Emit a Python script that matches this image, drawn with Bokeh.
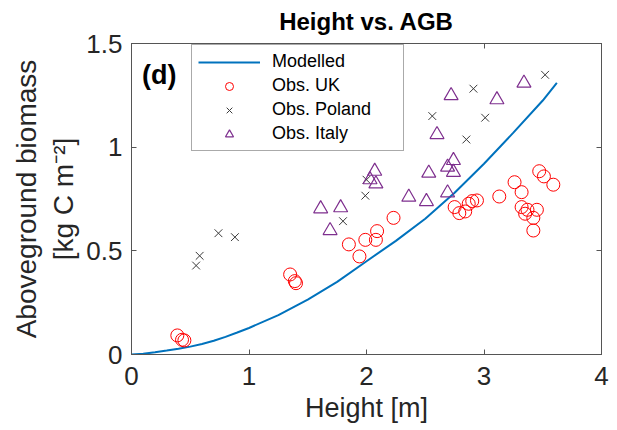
from bokeh.plotting import figure
from bokeh.models import FixedTicker, Label, LinearAxis, Range1d, Legend, LegendItem
from bokeh.embed import file_html
from bokeh.resources import INLINE

# ---- data ----
model_x = [0, 0.1, 0.2, 0.3, 0.4, 0.5, 0.6, 0.7, 0.8, 0.9, 1.0, 1.25, 1.5, 1.75, 2.0,
           2.25, 2.5, 2.75, 3.0, 3.25, 3.5, 3.62]
model_y = [0, 0.004, 0.011, 0.019, 0.028, 0.038, 0.051, 0.066, 0.085, 0.106, 0.128, 0.19, 0.265,
           0.35, 0.45, 0.548, 0.655, 0.78, 0.92, 1.07, 1.225, 1.31]

uk_x = [0.39, 0.43, 0.45, 1.35, 1.39, 1.40, 1.85, 1.94, 1.99, 2.08, 2.09, 2.23, 2.75, 2.79, 2.84,
        2.87, 2.90, 2.94, 3.13, 3.26, 3.32, 3.32, 3.35, 3.37, 3.42, 3.42, 3.45, 3.47, 3.51, 3.59]
uk_y = [0.092, 0.071, 0.068, 0.386, 0.354, 0.344, 0.531, 0.473, 0.553, 0.553, 0.595, 0.659, 0.711, 0.682, 0.690,
        0.727, 0.740, 0.743, 0.762, 0.831, 0.783, 0.711, 0.679, 0.698, 0.659, 0.598, 0.698, 0.884, 0.859, 0.819]

pl_x = [0.55, 0.58, 0.74, 0.88, 1.80, 1.99, 2.00, 2.56, 2.85, 2.91, 3.01, 3.52]
pl_y = [0.429, 0.476, 0.585, 0.566, 0.643, 0.766, 0.843, 1.150, 1.037, 1.282, 1.142, 1.349]

it_x = [1.61, 1.69, 1.78, 2.03, 2.07, 2.08, 2.36, 2.51, 2.53, 2.60, 2.69, 2.69, 2.72, 2.74, 2.74, 3.11, 3.34]
it_y = [0.703, 0.598, 0.708, 0.843, 0.884, 0.823, 0.759, 0.738, 0.875, 1.061, 0.780, 0.904, 1.249, 0.936, 0.879, 1.229, 1.309]

x_ticks = [0, 1, 2, 3, 4]
x_tick_labels = ["0", "1", "2", "3", "4"]
y_ticks = [0, 0.5, 1, 1.5]
y_tick_labels = ["0", "0.5", "1", "1.5"]

title_text = "Height vs. AGB"
x_label = "Height [m]"
y_label = "Aboveground biomass\n[kg C m\u207b\u00b2]"
panel_tag = "(d)"

FONT = "'Liberation Sans', Arial, sans-serif"
AX = "#555555"
TXT = "#262626"

p = figure(width=617, height=430, output_backend="svg", toolbar_location=None,
           x_range=Range1d(0, 4), y_range=Range1d(0, 1.5),
           min_border_left=131, min_border_right=16, min_border_top=43, min_border_bottom=76)

p.grid.visible = False
p.outline_line_color = AX
p.outline_line_width = 1
p.background_fill_color = "white"
p.border_fill_color = "white"

def style_axis(ax, show_labels=True):
    ax.axis_line_color = AX
    ax.major_tick_line_color = AX
    ax.major_tick_in = 5
    ax.major_tick_out = 0
    ax.minor_tick_line_color = None
    ax.major_label_text_font = FONT
    ax.major_label_text_font_size = "26px"
    ax.major_label_text_color = TXT
    ax.axis_label_text_font = FONT
    ax.axis_label_text_font_size = "27px"
    ax.axis_label_text_font_style = "normal"
    ax.axis_label_text_color = TXT
    if not show_labels:
        ax.major_label_text_font_size = "0px"
        ax.major_label_text_color = None

xa = p.xaxis[0]
ya = p.yaxis[0]
xa.ticker = FixedTicker(ticks=x_ticks)
ya.ticker = FixedTicker(ticks=y_ticks)
xa.major_label_overrides = {t: l for t, l in zip(x_ticks, x_tick_labels)}
ya.major_label_overrides = {t: l for t, l in zip(y_ticks, y_tick_labels)}
style_axis(xa)
style_axis(ya)
ya.axis_label_text_font_size = "28px"
xa.axis_label = x_label
ya.axis_label = y_label
xa.major_label_standoff = 12
ya.major_label_standoff = 9
xa.axis_label_standoff = 5
ya.axis_label_standoff = 4

# top axis carries the chart title as its label (centred over the frame)
top = LinearAxis(ticker=FixedTicker(ticks=x_ticks))
right = LinearAxis(ticker=FixedTicker(ticks=y_ticks))
style_axis(top, False)
style_axis(right, False)
top.major_label_standoff = 0
top.axis_label = title_text
top.axis_label_text_font_style = "bold"
top.axis_label_text_font_size = "24px"
top.axis_label_text_color = "#000000"
top.axis_label_standoff = 9
p.add_layout(top, "above")
p.add_layout(right, "right")

r_model = p.line(model_x, model_y, line_color="#0072BD", line_width=2)
r_uk = p.scatter(uk_x, uk_y, marker="circle", size=13, fill_color=None, line_color="#ff0000", line_width=1)
r_pl = p.scatter(pl_x, pl_y, marker="x", size=11, line_color="#3a3a3a", line_width=1)
r_it = p.scatter(it_x, it_y, marker="triangle", size=14, fill_color=None, line_color="#7E2F8E", line_width=1.2)

legend = Legend(items=[
    LegendItem(label="Modelled", renderers=[r_model]),
    LegendItem(label="Obs. UK", renderers=[r_uk]),
    LegendItem(label="Obs. Poland", renderers=[r_pl]),
    LegendItem(label="Obs. Italy", renderers=[r_it]),
], location=(60, 203))
legend.label_text_font = FONT
legend.label_text_font_size = "18px"
legend.label_text_color = "#000000"
legend.glyph_width = 62
legend.glyph_height = 20
legend.label_height = 20
legend.label_width = 125
legend.label_standoff = 12
legend.spacing = 3
legend.padding = 6
legend.margin = 0
legend.border_line_color = AX
legend.border_line_width = 1
legend.background_fill_alpha = 1
p.add_layout(legend, "center")

tag = Label(x=0.09, y=1.35, text=panel_tag, text_font=FONT,
            text_font_size="27px", text_font_style="bold", text_baseline="middle", text_color="#000000")
p.add_layout(tag)

open("out.html", "w").write(file_html(p, INLINE))
